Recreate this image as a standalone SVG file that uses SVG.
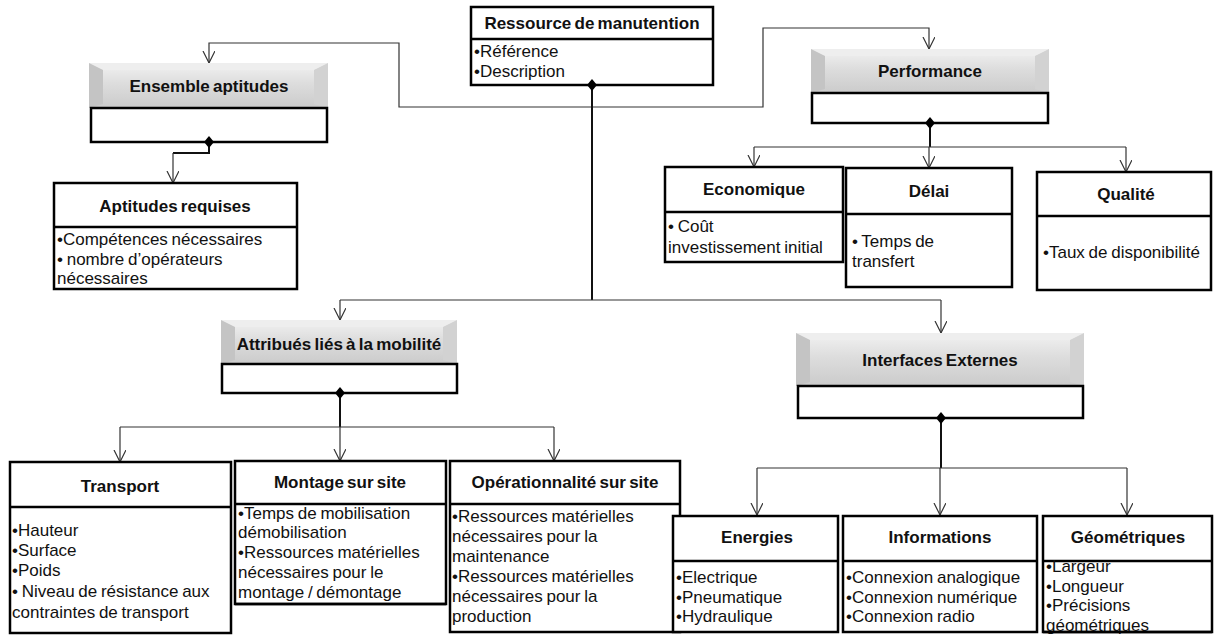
<svg xmlns="http://www.w3.org/2000/svg" width="1214" height="635" viewBox="0 0 1214 635">
<defs>
<style>
.box{fill:#fff;stroke:#000;stroke-width:2.5}
.div{stroke:#000;stroke-width:2.5}
.t{font-family:"Liberation Sans",Arial,sans-serif;font-size:17px;font-weight:bold;text-anchor:middle;fill:#111;word-spacing:-1.5px}
.b{font-family:"Liberation Sans",Arial,sans-serif;font-size:17px;fill:#111;word-spacing:-1px}
.con{fill:none;stroke:#333;stroke-width:1.2}
.stem{fill:none;stroke:#111;stroke-width:2}
.dia{fill:#000}
.hface{fill:url(#hdr)}
.bl{fill:#c4c4c4}
.br{fill:#d2d2d2}
.btop{fill:#eeeeee}
</style>
<linearGradient id="hdr" x1="0" y1="0" x2="0" y2="1">
<stop offset="0" stop-color="#f2f2f2"/>
<stop offset="0.45" stop-color="#dddddd"/>
<stop offset="1" stop-color="#cbcbcb"/>
</linearGradient>
<marker id="arr" markerWidth="14" markerHeight="14" refX="12" refY="6" orient="auto-start-reverse" markerUnits="userSpaceOnUse">
<path d="M0,0 L12,6 L0,12" fill="none" stroke="#333" stroke-width="1.2"/>
</marker>
</defs>

<g id="connectors">
<polyline class="con" points="209,63 209,43 399,43 399,107 763,107 763,28 929,28 929,49" marker-start="url(#arr)" marker-end="url(#arr)"/>
<line class="stem" x1="592" y1="85" x2="592" y2="300"/>
<line class="con" x1="340" y1="300" x2="941" y2="300"/>
<line class="con" x1="340" y1="300" x2="340" y2="320" marker-end="url(#arr)"/>
<line class="con" x1="941" y1="300" x2="941" y2="333" marker-end="url(#arr)"/>
<polyline class="stem" points="209,142 209,153 173,153"/>
<line class="con" x1="173" y1="153" x2="173" y2="183" marker-end="url(#arr)"/>
<line class="stem" x1="930" y1="123" x2="930" y2="147"/>
<line class="con" x1="754" y1="147" x2="1126" y2="147"/>
<line class="con" x1="754" y1="147" x2="754" y2="167" marker-end="url(#arr)"/>
<line class="con" x1="929" y1="147" x2="929" y2="168" marker-end="url(#arr)"/>
<line class="con" x1="1126" y1="147" x2="1126" y2="172" marker-end="url(#arr)"/>
<line class="stem" x1="340" y1="393" x2="340" y2="427"/>
<line class="con" x1="120" y1="427" x2="554" y2="427"/>
<line class="con" x1="120" y1="427" x2="120" y2="462" marker-end="url(#arr)"/>
<line class="con" x1="340" y1="427" x2="340" y2="461" marker-end="url(#arr)"/>
<line class="con" x1="554" y1="427" x2="554" y2="461" marker-end="url(#arr)"/>
<line class="stem" x1="941" y1="418" x2="941" y2="468"/>
<line class="con" x1="757" y1="468" x2="1127" y2="468"/>
<line class="con" x1="757" y1="468" x2="757" y2="515" marker-end="url(#arr)"/>
<line class="con" x1="940" y1="468" x2="940" y2="515" marker-end="url(#arr)"/>
<line class="con" x1="1127" y1="468" x2="1127" y2="515" marker-end="url(#arr)"/>
</g>

<g id="ressource">
<rect class="box" x="471" y="7" width="242" height="78"/>
<line class="div" x1="471" y1="39" x2="713" y2="39"/>
<text class="t" x="592" y="29">Ressource de manutention</text>
<text class="b" x="474" y="57">•Référence</text>
<text class="b" x="474" y="77">•Description</text>
<polygon class="dia" points="592,79 597,85 592,91 587,85"/>
</g>

<g id="ensemble">
<rect class="hface" x="89" y="63" width="239" height="45"/>
<polygon class="btop" points="89,63 328,63 314,70 103,70"/>
<polygon class="bl" points="89,63 103,70 103,104 89,108"/>
<polygon class="br" points="328,63 314,70 314,104 328,108"/>
<text class="t" x="209" y="92">Ensemble aptitudes</text>
<rect class="box" x="91" y="108" width="236" height="34"/>
<polygon class="dia" points="209,136 214,142 209,148 204,142"/>
</g>

<g id="aptitudes">
<rect class="box" x="54" y="183" width="243" height="106"/>
<line class="div" x1="54" y1="227" x2="297" y2="227"/>
<text class="t" x="175" y="212">Aptitudes requises</text>
<text class="b" x="57" y="245">•Compétences nécessaires</text>
<text class="b" x="57" y="265">• nombre d’opérateurs</text>
<text class="b" x="57" y="284">nécessaires</text>
</g>

<g id="performance">
<rect class="hface" x="811" y="49" width="238" height="44"/>
<polygon class="btop" points="811,49 1049,49 1035,56 825,56"/>
<polygon class="bl" points="811,49 825,56 825,89 811,93"/>
<polygon class="br" points="1049,49 1035,56 1035,89 1049,93"/>
<text class="t" x="930" y="77">Performance</text>
<rect class="box" x="812" y="93" width="236" height="30"/>
<polygon class="dia" points="930,117 935,123 930,129 925,123"/>
</g>

<g id="economique">
<rect class="box" x="665" y="167" width="178" height="95"/>
<line class="div" x1="665" y1="212" x2="843" y2="212"/>
<text class="t" x="754" y="195">Economique</text>
<text class="b" x="668" y="232">• Coût</text>
<text class="b" x="668" y="253">investissement initial</text>
</g>

<g id="delai">
<rect class="box" x="846" y="168" width="166" height="119"/>
<line class="div" x1="846" y1="214" x2="1012" y2="214"/>
<text class="t" x="929" y="197">Délai</text>
<text class="b" x="852" y="247">• Temps de</text>
<text class="b" x="852" y="267">transfert</text>
</g>

<g id="qualite">
<rect class="box" x="1037" y="172" width="174" height="118"/>
<line class="div" x1="1037" y1="216" x2="1211" y2="216"/>
<text class="t" x="1126" y="200">Qualité</text>
<text class="b" x="1043" y="258">•Taux de disponibilité</text>
</g>

<g id="attribues">
<rect class="hface" x="221" y="320" width="236" height="44"/>
<polygon class="btop" points="221,320 457,320 443,327 235,327"/>
<polygon class="bl" points="221,320 235,327 235,360 221,364"/>
<polygon class="br" points="457,320 443,327 443,360 457,364"/>
<text class="t" x="339" y="350">Attribués liés à la mobilité</text>
<rect class="box" x="222" y="364" width="235" height="29"/>
<polygon class="dia" points="340,387 345,393 340,399 335,393"/>
</g>

<g id="interfaces">
<rect class="hface" x="796" y="333" width="288" height="53"/>
<polygon class="btop" points="796,333 1084,333 1070,340 810,340"/>
<polygon class="bl" points="796,333 810,340 810,382 796,386"/>
<polygon class="br" points="1084,333 1070,340 1070,382 1084,386"/>
<text class="t" x="940" y="366">Interfaces Externes</text>
<rect class="box" x="798" y="386" width="285" height="32"/>
<polygon class="dia" points="941,412 946,418 941,424 936,418"/>
</g>

<g id="transport">
<rect class="box" x="10" y="462" width="221" height="171"/>
<line class="div" x1="10" y1="507" x2="231" y2="507"/>
<text class="t" x="120" y="492">Transport</text>
<text class="b" x="12" y="536">•Hauteur</text>
<text class="b" x="12" y="556">•Surface</text>
<text class="b" x="12" y="576">•Poids</text>
<text class="b" x="12" y="597">• Niveau de résistance aux</text>
<text class="b" x="12" y="618">contraintes de transport</text>
</g>

<g id="montage">
<rect class="box" x="235" y="461" width="211" height="143"/>
<line class="div" x1="235" y1="504" x2="446" y2="504"/>
<text class="t" x="340" y="488">Montage sur site</text>
<text class="b" x="238" y="519">•Temps de mobilisation</text>
<text class="b" x="238" y="538">démobilisation</text>
<text class="b" x="238" y="558">•Ressources matérielles</text>
<text class="b" x="238" y="578">nécessaires pour le</text>
<text class="b" x="238" y="598">montage / démontage</text>
<line class="div" x1="235" y1="604" x2="446" y2="604"/>
</g>

<g id="operationnalite">
<rect class="box" x="450" y="461" width="230" height="171"/>
<line class="div" x1="450" y1="504" x2="680" y2="504"/>
<text class="t" x="565" y="488">Opérationnalité sur site</text>
<text class="b" x="452" y="522">•Ressources matérielles</text>
<text class="b" x="452" y="542">nécessaires pour la</text>
<text class="b" x="452" y="562">maintenance</text>
<text class="b" x="452" y="582">•Ressources matérielles</text>
<text class="b" x="452" y="602">nécessaires pour la</text>
<text class="b" x="452" y="622">production</text>
</g>

<g id="energies">
<rect class="box" x="673" y="516" width="165" height="116"/>
<line class="div" x1="673" y1="561" x2="838" y2="561"/>
<text class="t" x="757" y="543">Energies</text>
<text class="b" x="676" y="583">•Electrique</text>
<text class="b" x="676" y="603">•Pneumatique</text>
<text class="b" x="676" y="622">•Hydraulique</text>
</g>

<g id="informations">
<rect class="box" x="843" y="516" width="194" height="116"/>
<line class="div" x1="843" y1="561" x2="1037" y2="561"/>
<text class="t" x="940" y="543">Informations</text>
<text class="b" x="846" y="583">•Connexion analogique</text>
<text class="b" x="846" y="603">•Connexion numérique</text>
<text class="b" x="846" y="622">•Connexion radio</text>
</g>

<g id="geometriques">
<rect class="box" x="1043" y="516" width="169" height="116"/>
<line class="div" x1="1043" y1="561" x2="1212" y2="561"/>
<text class="t" x="1128" y="543">Géométriques</text>
<text class="b" x="1046" y="572">•Largeur</text>
<text class="b" x="1046" y="592">•Longueur</text>
<text class="b" x="1046" y="611">•Précisions</text>
<text class="b" x="1046" y="631">géométriques</text>
<line class="div" x1="1043" y1="632" x2="1212" y2="632"/>
</g>
</svg>
